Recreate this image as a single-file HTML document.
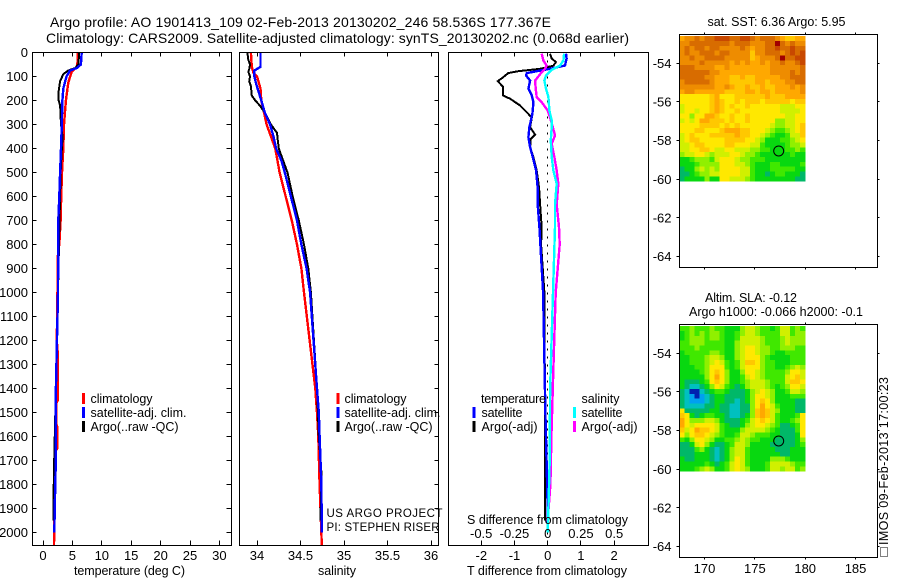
<!DOCTYPE html>
<html>
<head>
<meta charset="utf-8">
<title>Argo profile 1901413_109</title>
<style>
html,body{margin:0;padding:0;background:#fff;}
svg{display:block;}
text{font-family:"Liberation Sans",sans-serif;font-size:13px;fill:#000;}
text[textLength]{font-size:12.5px;}
</style>
</head>
<body>
<svg id="chart" xmlns="http://www.w3.org/2000/svg" width="900" height="580" viewBox="0 0 900 580">
  <rect x="0" y="0" width="900" height="580" fill="#fff"/>
  <g id="map-cells"></g>
  <g id="profiles"></g>
  <g id="frames"></g>
  <g id="tick-marks"></g>
  <g id="tick-text"></g>

  <text x="50" y="27" style="font-size:14px" textLength="501" lengthAdjust="spacing">Argo profile: AO 1901413_109 02-Feb-2013 20130202_246 58.536S 177.367E</text>
  <text x="46" y="43" style="font-size:14px" textLength="583" lengthAdjust="spacing">Climatology: CARS2009. Satellite-adjusted climatology: synTS_20130202.nc (0.068d earlier)</text>

  <text x="74" y="575" textLength="111" lengthAdjust="spacing">temperature (deg C)</text>
  <text x="318" y="575" textLength="38" lengthAdjust="spacing">salinity</text>
  <text x="467" y="575" textLength="160" lengthAdjust="spacing">T difference from climatology</text>
  <text x="467" y="524" textLength="161" lengthAdjust="spacing">S difference from climatology</text>

  <g>
    <rect x="82" y="393" width="3" height="11" fill="#f00"/>
    <text x="90.5" y="403" textLength="62" lengthAdjust="spacing">climatology</text>
    <rect x="82" y="407" width="3" height="11" fill="#00f"/>
    <text x="90.5" y="417" textLength="96" lengthAdjust="spacing">satellite-adj. clim.</text>
    <rect x="82" y="421" width="3" height="11" fill="#000"/>
    <text x="90.5" y="431" textLength="88" lengthAdjust="spacing">Argo(..raw -QC)</text>
  </g>
  <g>
    <rect x="336.5" y="393" width="3" height="11" fill="#f00"/>
    <text x="344.5" y="403" textLength="62" lengthAdjust="spacing">climatology</text>
    <rect x="336.5" y="407" width="3" height="11" fill="#00f"/>
    <text x="344.5" y="417" textLength="96" lengthAdjust="spacing">satellite-adj. clim.</text>
    <rect x="336.5" y="421" width="3" height="11" fill="#000"/>
    <text x="344.5" y="431" textLength="88" lengthAdjust="spacing">Argo(..raw -QC)</text>
  </g>
  <text x="326.5" y="517" style="font-size:11.5px" textLength="116" lengthAdjust="spacing">US ARGO PROJECT</text>
  <text x="326.5" y="531" style="font-size:11.5px" textLength="113" lengthAdjust="spacing">PI: STEPHEN RISER</text>

  <g>
    <text x="481" y="403" textLength="65" lengthAdjust="spacing">temperature</text>
    <rect x="472.5" y="407" width="3" height="11" fill="#00f"/>
    <text x="481.5" y="417" textLength="41" lengthAdjust="spacing">satellite</text>
    <rect x="472.5" y="421" width="3" height="11" fill="#000"/>
    <text x="481.5" y="431" textLength="56" lengthAdjust="spacing">Argo(-adj)</text>
    <text x="581.5" y="403" textLength="38" lengthAdjust="spacing">salinity</text>
    <rect x="573" y="407" width="3" height="11" fill="#0ff"/>
    <text x="581.5" y="417" textLength="41" lengthAdjust="spacing">satellite</text>
    <rect x="573" y="421" width="3" height="11" fill="#f0f"/>
    <text x="581.5" y="431" textLength="56" lengthAdjust="spacing">Argo(-adj)</text>
  </g>

  <text x="707.5" y="26" textLength="138" lengthAdjust="spacing">sat. SST: 6.36 Argo: 5.95</text>
  <text x="705" y="302" textLength="92" lengthAdjust="spacing">Altim. SLA: -0.12</text>
  <text x="689" y="316" textLength="174" lengthAdjust="spacing">Argo h1000: -0.066 h2000: -0.1</text>

  <text transform="translate(888,545) rotate(-90)" x="0" y="0" textLength="168" lengthAdjust="spacing">IMOS 09-Feb-2013 17:00:23</text>
  <rect x="880.5" y="547.5" width="7" height="9" fill="none" stroke="#000" stroke-width="1" stroke-dasharray="1 1"/>
</svg>

<script>
// ---------- Profile data: depth (dbar) and value arrays ----------
const tempClimDepth = [0,50,60,80,125,200,300,400,500,600,700,800,830,1200,1250,1450,1460,1550,1560,1650,1660,2000,2052];
const tempClimValue = [5.9,5.85,5.7,4.88,4.3,3.9,3.57,3.45,3.23,3.1,3.0,2.78,2.55,2.35,2.5,2.5,2.3,2.3,2.43,2.43,2.15,1.9,1.87];
const tempSatDepth = [0,50,65,75,100,150,200,300,400,500,600,700,1000,1400,1700,1850,2000];
const tempSatValue = [6.58,6.45,5.73,4.6,4.0,3.45,3.3,3.2,3.06,2.9,2.78,2.6,2.55,2.2,2.18,2.04,1.92];
const tempArgoDepth = [0,50,65,75,90,120,160,200,220,300,350,420,500,600,700,1000,1400,1680,1900,1950];
const tempArgoValue = [6.18,6.0,5.44,4.3,3.45,2.9,2.67,2.67,2.9,3.06,3.34,3.17,3.0,2.9,2.8,2.55,2.2,1.92,1.75,1.75];

const salClimDepth = [0,60,85,100,150,200,250,300,400,500,600,700,800,900,1000,1400,1500,1600,1800,2052];
const salClimValue = [33.93,33.94,33.96,34.0,34.04,34.05,34.08,34.11,34.21,34.26,34.33,34.40,34.46,34.51,34.54,34.67,34.69,34.705,34.72,34.745];
const salSatDepth = [0,60,75,100,130,200,250,300,350,400,450,500,600,700,800,900,1000,1400,1500,1600,1800,2000];
const salSatValue = [34.04,34.04,33.97,33.97,33.99,34.05,34.09,34.15,34.19,34.22,34.28,34.32,34.39,34.46,34.51,34.57,34.61,34.69,34.71,34.72,34.74,34.745];
const salArgoDepth = [0,30,50,70,80,100,120,140,180,200,220,250,300,335,370,400,450,500,600,700,800,900,1000,1400,1600,1750,1950];
const salArgoValue = [33.89,33.9,33.92,33.91,33.9,33.92,33.91,33.93,33.94,33.98,34.03,34.09,34.16,34.23,34.24,34.25,34.30,34.35,34.41,34.48,34.54,34.59,34.62,34.69,34.71,34.74,34.73];

const diffTSatDepth = [5,25,54,68,78,86,96,117,151,179,207,256,311,353,394,436,492,564,633,728,1000,1500,1900,2000];
const diffTSatValue = [0.55,0.57,0.52,0.07,-0.33,-0.63,-0.65,-0.53,-0.58,-0.48,-0.43,-0.46,-0.55,-0.58,-0.53,-0.45,-0.35,-0.3,-0.3,-0.25,-0.14,-0.07,0,0];
const diffTArgoDepth = [5,25,40,55,68,78,86,103,119,144,179,193,221,256,272,311,342,360,394,436,492,564,633,728,800,1000,1500,1950];
const diffTArgoValue = [0.07,0.12,0.25,0.17,-0.23,-0.89,-1.19,-1.34,-1.5,-1.34,-1.34,-1.13,-0.83,-0.58,-0.48,-0.53,-0.38,-0.51,-0.53,-0.43,-0.33,-0.26,-0.23,-0.18,-0.2,-0.1,-0.08,-0.08];
const diffSSatDepth = [5,33,54,72,96,117,151,186,242,283,311,367,436,492,547,633,728,1000,1400,1700,1900,2000];
const diffSSatValue = [0.123,0.118,0.093,0.03,-0.013,-0.025,-0.013,0.005,0.013,0.03,0.03,0.023,0.03,0.043,0.068,0.055,0.055,0.04,0.018,0.015,0.005,0];
const diffSArgoDepth = [5,33,54,68,82,117,151,186,207,242,276,311,346,380,436,492,547,633,728,800,1000,1367,1500,1600,1800,1950];
const diffSArgoValue = [-0.045,-0.033,-0.008,-0.02,-0.045,-0.095,-0.09,-0.083,-0.045,0,0.02,0.038,0.055,0.03,0.05,0.068,0.08,0.068,0.085,0.09,0.06,0.04,0.033,0.028,0.02,0];

// ---------- Tick values ----------
const depthTicks = [0,100,200,300,400,500,600,700,800,900,1000,1100,1200,1300,1400,1500,1600,1700,1800,1900,2000];
const tempTicks = [0,5,10,15,20,25,30];
const salTicks = [34,34.5,35,35.5,36];
const diffTTicks = [-2,-1,0,1,2];
const diffSTicks = [-0.5,-0.25,0,0.25,0.5];
const diffSLabels = ['-0.5','-0.25','0','0.25','0.5'];
const lonTicks = [170,175,180,185];
const latTicks = [-54,-56,-58,-60,-62,-64];
const argoLon = 177.367;
const argoLat = -58.536;

// ---------- Map grids (colour level per 0.5 x 0.25 degree cell, north to south) ----------
const gridLonStart = 167.5;
const gridLatStart = -52.6;
const gridLonStep = 0.5;
const gridLatStep = 0.25;
const sstGrid = [
[10,11,11,12,11,12,12,13,13,13,12,12,13,13,12,11,12,12,12,11,10,9,9,10,10],
[11,11,12,12,12,12,12,12,12,12,11,12,12,12,11,11,11,12,12,14,12,11,12,11,11],
[11,12,11,12,12,11,12,12,11,11,11,11,12,11,10,11,11,12,12,13,12,12,13,12,12],
[11,12,11,11,12,12,12,11,12,12,11,11,11,11,9,11,11,12,12,12,11,12,13,12,13],
[11,11,12,11,11,12,12,12,12,11,11,11,11,11,9,10,11,11,11,12,14,12,12,13,13],
[11,11,11,11,12,11,11,11,11,11,10,11,10,11,10,10,11,10,11,11,12,11,11,12,13],
[12,12,12,11,11,11,11,10,10,11,10,10,10,10,10,10,10,10,11,11,11,11,11,11,12],
[12,12,12,12,12,12,11,11,10,10,10,10,10,10,10,10,10,10,11,11,11,11,12,11,12],
[12,12,12,12,12,11,11,10,10,10,9,9,10,9,9,10,10,10,10,10,11,11,12,12,12],
[11,12,12,12,12,12,11,10,10,10,9,9,9,9,9,10,10,9,10,10,10,11,11,12,12],
[11,11,11,11,11,11,11,10,10,11,10,9,9,10,9,9,10,9,9,10,10,10,11,10,11],
[10,11,11,10,10,10,10,10,10,9,9,9,9,10,10,9,10,10,9,10,10,10,10,10,11],
[8,8,8,8,8,8,9,10,8,8,8,9,9,9,9,9,9,10,9,9,9,10,10,10,10],
[8,8,8,8,8,8,9,10,9,8,8,9,8,9,9,9,8,9,9,9,9,9,8,9,9],
[7,8,8,8,8,8,9,10,9,8,9,8,8,9,8,8,8,8,8,8,7,7,7,8,8],
[7,8,8,7,8,8,9,10,9,8,8,9,8,8,8,8,8,8,8,8,7,7,7,7,8],
[8,8,6,8,8,10,10,9,8,8,9,8,8,9,8,8,8,8,8,8,8,7,7,8,8],
[7,8,7,8,10,10,9,9,9,8,9,8,8,9,8,8,8,8,8,6,6,7,7,8,8],
[8,8,8,8,9,9,9,9,8,9,8,9,8,8,8,8,8,8,7,6,6,7,7,8,9],
[8,8,8,9,9,8,8,8,9,10,10,10,9,9,8,8,8,7,6,5,5,6,7,8,9],
[7,8,9,8,8,8,9,9,9,9,9,10,9,9,8,8,7,6,5,4,4,5,7,7,9],
[7,8,9,9,8,8,8,8,8,9,9,9,9,8,8,7,6,4,4,4,5,5,6,7,8],
[7,7,8,9,9,8,8,8,8,9,9,8,8,8,7,7,5,4,4,4,4,5,6,6,7],
[7,7,8,8,9,9,8,7,7,8,8,7,7,7,6,6,5,5,4,4,4,5,5,6,5],
[6,7,7,8,8,7,6,7,7,7,8,8,7,6,6,5,4,4,4,4,4,4,5,4,4],
[4,4,5,6,6,6,5,7,8,8,8,7,6,6,5,5,5,4,4,4,4,4,4,4,4],
[4,4,4,5,6,6,6,6,8,8,8,7,7,6,5,4,4,4,5,5,4,4,4,4,5],
[3,4,4,6,7,6,7,6,8,8,8,8,7,7,5,4,4,4,5,5,5,5,5,4,4],
[3,3,4,5,6,6,7,7,8,8,8,8,7,7,5,4,4,3,4,5,5,4,4,4,3],
[3,4,4,4,4,6,4,4,8,8,7,7,7,6,5,4,4,4,4,4,4,4,4,3,3]
];
const slaGrid = [
[5,5,6,5,5,5,6,5,5,4,4,4,6,7,7,6,5,5,4,5,7,7,5,6,5],
[4,5,6,5,6,5,6,6,5,4,4,5,6,7,7,6,5,5,5,5,7,7,5,6,6],
[4,5,6,6,6,5,6,6,5,4,4,5,7,7,7,7,6,5,5,5,6,7,6,6,6],
[5,5,6,6,6,5,5,5,5,4,4,6,7,7,7,7,6,5,5,5,6,7,6,6,6],
[5,5,5,6,5,5,5,5,5,4,4,6,7,8,8,7,6,6,5,5,6,6,6,5,5],
[4,5,5,5,5,5,6,6,5,4,4,6,7,8,8,7,6,6,5,4,4,5,5,5,5],
[4,4,5,5,5,6,7,7,6,4,4,6,7,8,8,8,6,5,4,4,4,4,5,5,5],
[4,4,5,5,5,6,7,8,7,5,4,5,7,9,9,8,6,5,5,4,4,4,5,5,5],
[4,4,4,5,5,6,8,8,8,5,4,5,7,8,8,8,6,5,5,4,4,5,6,7,6],
[4,4,4,4,5,6,8,9,8,6,4,4,6,8,8,7,6,5,5,5,5,6,8,8,7],
[4,4,4,4,4,6,8,10,8,6,4,4,5,7,8,7,6,5,5,5,5,7,8,9,7],
[4,3,3,3,4,5,8,9,8,6,4,4,5,6,7,7,7,6,5,5,5,7,9,9,8],
[4,3,2,2,3,4,6,8,7,5,4,3,4,6,7,7,7,6,5,4,5,6,8,8,7],
[3,2,0,0,2,3,4,5,5,4,3,3,3,4,6,7,8,7,6,4,4,5,7,7,6],
[3,2,1,0,1,2,3,4,4,3,3,3,3,4,6,8,8,7,6,4,4,4,5,5,5],
[3,2,1,1,1,2,3,4,4,3,3,2,3,4,6,8,9,8,6,4,4,4,4,3,3],
[3,2,2,2,2,3,3,4,3,3,2,2,3,3,6,8,10,8,7,5,4,4,4,3,3],
[8,3,3,3,3,3,4,4,3,3,2,2,3,3,6,9,10,9,7,6,4,4,4,3,3],
[9,8,4,3,4,5,5,4,4,3,2,2,3,4,6,9,10,9,7,5,4,4,4,5,8],
[10,8,6,6,6,7,7,6,4,3,3,3,4,5,7,8,9,8,7,5,4,4,5,6,8],
[10,8,7,8,8,8,8,7,5,4,3,3,4,6,7,8,8,7,6,5,3,3,4,5,8],
[9,7,8,10,9,9,8,7,5,4,4,4,6,7,7,7,7,6,5,4,3,3,3,5,8],
[8,6,8,9,9,8,7,6,5,4,4,5,7,7,6,5,5,5,4,4,3,3,3,4,8],
[5,4,6,8,8,7,6,4,4,5,5,6,7,6,5,5,4,4,4,3,3,3,3,4,6],
[3,3,4,7,8,6,4,3,3,4,5,7,7,6,4,4,4,4,3,3,3,3,3,4,5],
[3,3,3,5,6,4,3,2,3,4,6,7,7,5,4,4,4,4,4,3,3,3,4,4,4],
[3,3,3,4,4,4,3,2,3,4,6,7,7,5,4,4,4,4,4,4,3,3,4,4,4],
[4,3,3,4,4,4,3,2,3,4,6,8,7,5,4,4,4,4,6,6,6,5,4,4,4],
[4,4,4,4,4,5,4,3,4,5,7,8,7,5,4,4,4,5,7,7,7,7,6,5,5],
[4,4,4,5,6,7,6,4,4,5,7,8,7,6,4,4,4,5,7,7,6,7,7,5,6]
];
const levelColor = ['#0020b0','#00a0f0','#00c0c0','#00b868','#08d810','#40e800','#90f000','#d0f000','#ffe800','#ffc800','#ffa800','#ee8c00','#d86c00','#c84800','#a00000'];

// ---------- Axis functions ----------
function depthY(d){ return 52.5 + d * 0.24; }
function tempX(v){ return 43 + v * 5.88; }
function salX(v){ return 257 + (v - 34) * 87; }
function diffTX(v){ return 547.7 + v * 33.2; }
function diffSX(v){ return 547.7 + v * 133; }
function lonX(v){ return 704.5 + (v - 170) * 10.07; }
function latY(v, top){ return top + 29.3 + (-54 - v) * 19.33; }

const NS = 'http://www.w3.org/2000/svg';
function make(tag, parent){
  const el = document.createElementNS(NS, tag);
  parent.appendChild(el);
  return el;
}
const cellsG = document.getElementById('map-cells');
const profilesG = document.getElementById('profiles');
const framesG = document.getElementById('frames');
const marksG = document.getElementById('tick-marks');
const labelsG = document.getElementById('tick-text');

function drawProfile(depths, values, xFn, color, name, width){
  const line = make('polyline', profilesG);
  
  
  const pts = depths.map(function(d, i){ return xFn(values[i]).toFixed(1) + ',' + depthY(d).toFixed(1); });
  line.setAttribute('points', pts.join(' '));
  line.setAttribute('fill', 'none');
  line.setAttribute('stroke', color);
  line.setAttribute('stroke-width', width);
  line.setAttribute('shape-rendering', 'crispEdges');
}

function drawFrame(x, y, w, h, name){
  const r = make('rect', framesG);
  
  
  r.setAttribute('x', x);
  r.setAttribute('y', y);
  r.setAttribute('width', w);
  r.setAttribute('height', h);
  r.setAttribute('fill', 'none');
  r.setAttribute('stroke', '#000');
  r.setAttribute('stroke-width', '1');
  r.setAttribute('shape-rendering', 'crispEdges');
}

function tick(x1, y1, x2, y2, name){
  const l = make('line', marksG);
  
  
  l.setAttribute('x1', x1);
  l.setAttribute('y1', y1);
  l.setAttribute('x2', x2);
  l.setAttribute('y2', y2);
  l.setAttribute('stroke', '#000');
  l.setAttribute('stroke-width', '1');
  l.setAttribute('shape-rendering', 'crispEdges');
}

function label(str, x, y, anchor, name){
  const t = make('text', labelsG);
  
  
  t.setAttribute('x', x);
  t.setAttribute('y', y);
  t.setAttribute('text-anchor', anchor);
  t.textContent = str;
}

function drawGrid(grid, top, name){
  grid.forEach(function(row, r){
    row.forEach(function(level, c){
      const lon = gridLonStart + c * gridLonStep;
      const lat = gridLatStart - r * gridLatStep;
      const x0 = lonX(lon);
      const x1 = lonX(lon + gridLonStep);
      const y0 = latY(lat, top);
      const y1 = latY(lat - gridLatStep, top);
      const cell = make('rect', cellsG);
      
      
      cell.setAttribute('x', x0.toFixed(2));
      cell.setAttribute('y', y0.toFixed(2));
      cell.setAttribute('width', (x1 - x0 + 0.3).toFixed(2));
      cell.setAttribute('height', (y1 - y0 + 0.3).toFixed(2));
      cell.setAttribute('fill', levelColor[Math.max(0, Math.min(levelColor.length - 1, Math.round(level)))]);
      cell.setAttribute('shape-rendering', 'crispEdges');
    });
  });
}

// ---------- Panels ----------
const boxTop = 52.5, boxBottom = 545.5;
const p1L = 32.5, p1R = 231.5, p2L = 239.5, p2R = 438.5, p3L = 448.5, p3R = 648.5;

drawFrame(p1L, boxTop, p1R - p1L, boxBottom - boxTop, 'temperature-axes');
drawFrame(p2L, boxTop, p2R - p2L, boxBottom - boxTop, 'salinity-axes');
drawFrame(p3L, boxTop, p3R - p3L, boxBottom - boxTop, 'difference-axes');

depthTicks.forEach(function(d){
  const y = Math.floor(depthY(d)) + 0.5;
  tick(p1L, y, p1L + 4, y, 'depth-tick-left');
  tick(p1R - 5, y, p1R, y, 'depth-tick-right');
  tick(p2R - 4, y, p2R, y, 'salinity-depth-tick-right');
  label(String(d), 28, depthY(d) + 4.5, 'end', 'depth-tick-label');
});
tempTicks.forEach(function(v){
  const x = Math.floor(tempX(v)) + 0.5;
  tick(x, boxTop, x, boxTop + 4, 'temperature-tick-top');
  tick(x, boxBottom - 5, x, boxBottom, 'temperature-tick-bottom');
  label(String(v), tempX(v), 560, 'middle', 'temperature-tick-label');
});
salTicks.forEach(function(v){
  const x = Math.floor(salX(v)) + 0.5;
  tick(x, boxTop, x, boxTop + 4, 'salinity-tick-top');
  tick(x, boxBottom - 5, x, boxBottom, 'salinity-tick-bottom');
  label(String(v), salX(v), 560, 'middle', 'salinity-tick-label');
});
diffTTicks.forEach(function(v){
  const x = Math.floor(diffTX(v)) + 0.5;
  tick(x, boxTop, x, boxTop + 4, 'difference-tick-top');
  tick(x, boxBottom - 5, x, boxBottom, 'difference-tick-bottom');
  label(String(v), diffTX(v), 560, 'middle', 't-difference-tick-label');
});
diffSTicks.forEach(function(v, i){
  label(diffSLabels[i], diffSX(v), 538, 'middle', 's-difference-tick-label');
});

// zero reference line on the difference panel
const zeroLine = make('line', profilesG);


zeroLine.setAttribute('x1', diffTX(0));
zeroLine.setAttribute('x2', diffTX(0));
zeroLine.setAttribute('y1', depthY(0));
zeroLine.setAttribute('y2', depthY(2052));
zeroLine.setAttribute('stroke', '#000');
zeroLine.setAttribute('stroke-width', '1');
zeroLine.setAttribute('stroke-dasharray', '2 6');
zeroLine.setAttribute('shape-rendering', 'crispEdges');

drawProfile(tempClimDepth, tempClimValue, tempX, '#f00', 'temperature-climatology-line', '2.4');
drawProfile(tempArgoDepth, tempArgoValue, tempX, '#000', 'temperature-argo-line', '2');
drawProfile(tempSatDepth, tempSatValue, tempX, '#00f', 'temperature-satellite-line', '2.4');

drawProfile(salClimDepth, salClimValue, salX, '#f00', 'salinity-climatology-line', '2.4');
drawProfile(salArgoDepth, salArgoValue, salX, '#000', 'salinity-argo-line', '2');
drawProfile(salSatDepth, salSatValue, salX, '#00f', 'salinity-satellite-line', '2.4');

drawProfile(diffTArgoDepth, diffTArgoValue, diffTX, '#000', 't-difference-argo-line', '2');
drawProfile(diffTSatDepth, diffTSatValue, diffTX, '#00f', 't-difference-satellite-line', '2.4');
drawProfile(diffSArgoDepth, diffSArgoValue, diffSX, '#f0f', 's-difference-argo-line', '2.4');
drawProfile(diffSSatDepth, diffSSatValue, diffSX, '#0ff', 's-difference-satellite-line', '2.4');

// ---------- Maps ----------
const mapL = 679.5, mapR = 877.5;
const mapTops = [34, 324];
const mapNames = ['sst-map', 'sla-map'];
drawGrid(sstGrid, mapTops[0], 'sst-cell');
drawGrid(slaGrid, mapTops[1], 'sla-cell');

mapTops.forEach(function(top, m){
  const t = top + 0.5, b = top + 233.5;
  drawFrame(mapL, t, mapR - mapL, b - t, mapNames[m] + '-axes');
  lonTicks.forEach(function(v){
    const x = Math.floor(lonX(v)) + 0.5;
    tick(x, t - 2, x, t, mapNames[m] + '-lon-tick-top');
    tick(x, b, x, b + 2, mapNames[m] + '-lon-tick-bottom');
    if (m === 1) {
      label(String(v), lonX(v), 573, 'middle', 'lon-tick-label');
    }
  });
  latTicks.forEach(function(v){
    const y = Math.floor(latY(v, top)) + 0.5;
    tick(mapL - 3, y, mapL, y, mapNames[m] + '-lat-tick-left');
    tick(mapR, y, mapR + 2, y, mapNames[m] + '-lat-tick-right');
    label(String(v), 671.5, latY(v, top) + 4.5, 'end', mapNames[m] + '-lat-tick-label');
  });
  const dot = make('circle', framesG);
  
  
  dot.setAttribute('cx', lonX(argoLon));
  dot.setAttribute('cy', latY(argoLat, top));
  dot.setAttribute('r', '5');
  dot.setAttribute('fill', 'none');
  dot.setAttribute('stroke', '#000');
  dot.setAttribute('stroke-width', '1');
});
</script>
</body>
</html>
